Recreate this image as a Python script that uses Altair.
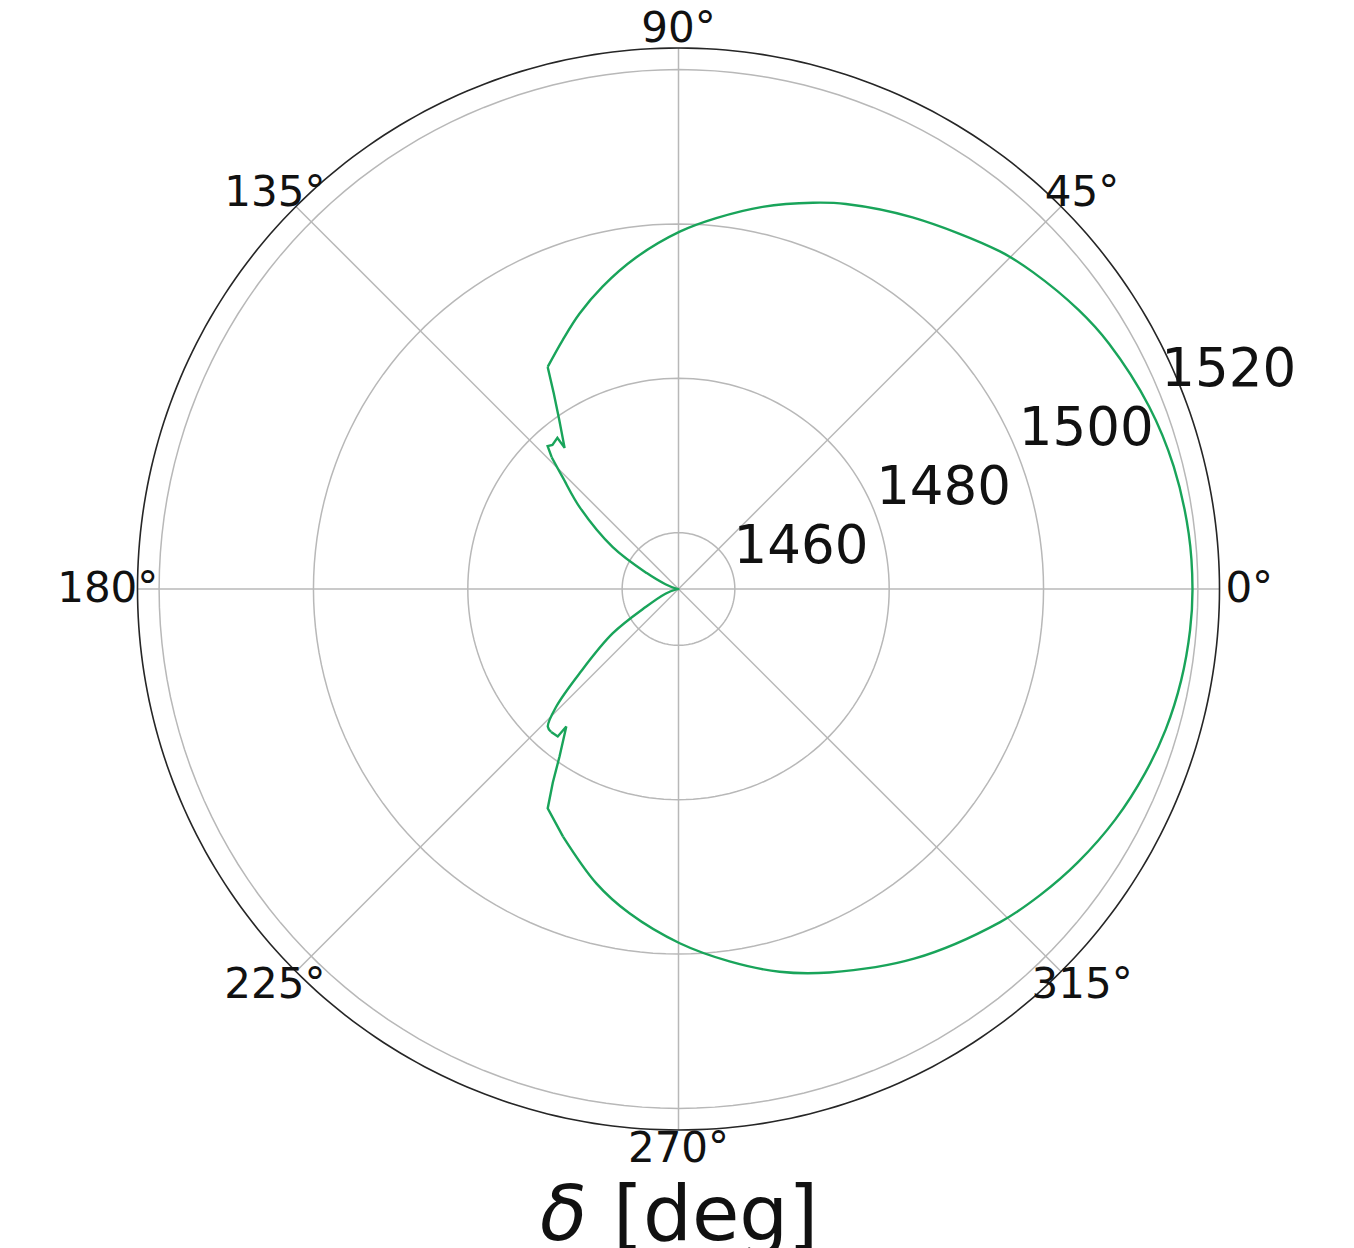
import altair as alt
import pandas as pd

# ---- data -------------------------------------------------------------
curve_theta = [0, 6.2, 13.9, 21.2, 29.7, 34.9, 41.8, 46.4,
               57.8, 66.5, 70.8, 77.6, 84.2, 89.8, 97.3, 104.1, 109.8, 114.9,
               120.5, 122.5, 125.2, 128.9, 128.7, 131.2, 132.5, 133.9, 136.0, 140.4,
               147.5, 153.4, 160, 170, 180, 190, 200, 208.7, 214.0, 220.4,
               223.9, 226.5, 228.3, 230.7, 230.8, 234.6, 237.0, 239.2, 245.0, 254.4,
               261.4, 270.2, 277.8, 284.8, 291.5, 302.5, 314.0, 319.8, 325.6, 332.2,
               338.5, 343.9, 349.7, 355.4, 360]
curve_r = [1519.3, 1519.2, 1518.8, 1518.1, 1516.9, 1515.9, 1514.3, 1513.1,
           1509.6, 1507.1, 1505.7, 1503.4, 1501.0, 1499.0, 1496.0, 1493.1, 1490.6, 1488.3,
           1486.1, 1482.8, 1479.5, 1476.2, 1477.8, 1477.5, 1477.8, 1476.4, 1473.6, 1469.3,
           1462.8, 1457.3, 1454.5, 1453.0, 1452.7, 1453.0, 1454.5, 1457.5, 1463.0, 1469.5,
           1474.7, 1477.3, 1477.5, 1477.4, 1475.7, 1479.3, 1482.6, 1485.8, 1488.1, 1492.3,
           1495.2, 1498.6, 1501.4, 1504.0, 1506.1, 1509.5, 1512.7, 1514.1, 1515.4, 1516.7,
           1517.7, 1518.4, 1518.9, 1519.2, 1519.3]

ring_values = [1460, 1480, 1500, 1520]
ring_labels = ["1460", "1480", "1500", "1520"]
spoke_angles = [0, 45, 90, 135, 180, 225, 270, 315]
spoke_labels = ["0°", "45°", "90°", "135°", "180°", "225°", "270°", "315°"]
xlabel_symbol = "δ"
xlabel_unit = "[deg]"

# radial axis limits
R_MIN, R_MAX = 1452.7, 1522.8
RLABEL_ANGLE = 22.5

# pieces of the curve: smooth arcs and the two jagged corners (index spans)
SMOOTH_SPANS = [list(range(46, 62)) + list(range(0, 19)), list(range(25, 41))]
JAGGED_SPANS = [list(range(18, 26)), list(range(40, 47))]

# ---- layout -----------------------------------------------------------
W, H = 1338, 1240
CX, CY, RPX = 670.5, 581.0, 541.0
xs = alt.Scale(domain=[-CX / RPX, (W - CX) / RPX], nice=False, zero=False)
ys = alt.Scale(domain=[-(H - CY) / RPX, CY / RPX], nice=False, zero=False)
FONT = "DejaVu Sans"
GREEN = "#19a45a"
GRID = "#b8b8b8"


def polar(chart, rfield="r", afield="a"):
    return chart.transform_calculate(
        rn=f"(datum.{rfield} - {R_MIN}) / ({R_MAX} - {R_MIN})"
    ).transform_calculate(
        px=f"datum.rn * cos(datum.{afield} * PI / 180)",
        py=f"datum.rn * sin(datum.{afield} * PI / 180)",
    )


def X(f="px"):
    return alt.X(f"{f}:Q", scale=xs, axis=None)


def Y(f="py"):
    return alt.Y(f"{f}:Q", scale=ys, axis=None)


def pieces(spans):
    rows = []
    for s, idx in enumerate(spans):
        for k, i in enumerate(idx):
            rows.append({"seg": s, "k": k, "a": curve_theta[i], "r": curve_r[i]})
    return pd.DataFrame(rows)


# gridline rings (sampled circles)
ring_rows = [{"r": rv, "a": a} for rv in ring_values for a in range(0, 361, 2)]
rings = polar(alt.Chart(pd.DataFrame(ring_rows))).mark_line(
    color=GRID, strokeWidth=1.5
).encode(x=X(), y=Y(), detail="r:N", order="a:Q")

# outer frame
outer_rows = [{"r": R_MAX, "a": a} for a in range(0, 361, 1)]
outer = polar(alt.Chart(pd.DataFrame(outer_rows))).mark_line(
    color="#262626", strokeWidth=1.6
).encode(x=X(), y=Y(), order="a:Q")

# spokes
spokes = alt.Chart(pd.DataFrame({"a": spoke_angles})).transform_calculate(
    x0="0", y0="0",
    x1="cos(datum.a * PI / 180)", y1="sin(datum.a * PI / 180)",
).mark_rule(color=GRID, strokeWidth=1.5).encode(
    x=X("x0"), y=Y("y0"), x2="x1:Q", y2="y1:Q"
)

# data curve: smooth parts + jagged corners
curve_smooth = polar(alt.Chart(pieces(SMOOTH_SPANS))).mark_line(
    color=GREEN, strokeWidth=2.4, interpolate="catmull-rom"
).encode(x=X(), y=Y(), detail="seg:N", order="k:Q")
curve_jag = polar(alt.Chart(pieces(JAGGED_SPANS))).mark_line(
    color=GREEN, strokeWidth=2.4, strokeJoin="miter"
).encode(x=X(), y=Y(), detail="seg:N", order="k:Q")

# angle labels
alabels = alt.Chart(pd.DataFrame({"a": spoke_angles, "t": spoke_labels})).transform_calculate(
    px="1.055 * cos(datum.a * PI / 180)",
    py="1.035 * sin(datum.a * PI / 180)",
).mark_text(font=FONT, fontSize=42, align="center", baseline="middle", color="#111111").encode(
    x=X(), y=Y(), text="t:N"
)

# radial labels
rlabels = polar(
    alt.Chart(pd.DataFrame({"r": ring_values, "t": ring_labels})).transform_calculate(
        a=str(RLABEL_ANGLE)
    )
).mark_text(font=FONT, fontSize=53, align="left", baseline="alphabetic",
            dx=3, dy=-4, color="#111111").encode(x=X(), y=Y(), text="t:N")

# x label (delta in italic, unit upright)
lab1 = alt.Chart(pd.DataFrame({"t": [xlabel_symbol]})).mark_text(
    font=FONT, fontSize=77, fontStyle="italic", align="left", baseline="alphabetic",
    color="#111111"
).encode(x=alt.value(532), y=alt.value(1232), text="t:N")
lab2 = alt.Chart(pd.DataFrame({"t": [xlabel_unit]})).mark_text(
    font=FONT, fontSize=77, align="left", baseline="alphabetic", color="#111111"
).encode(x=alt.value(605), y=alt.value(1232), text="t:N")

chart = alt.layer(rings, spokes, outer, curve_smooth, curve_jag,
                  alabels, rlabels, lab1, lab2).properties(
    width=W, height=H,
    autosize=alt.AutoSizeParams(type="none"),
    padding=0,
).configure_view(stroke=None)

chart.save("out.html", embed_options={"renderer": "svg", "actions": False})
